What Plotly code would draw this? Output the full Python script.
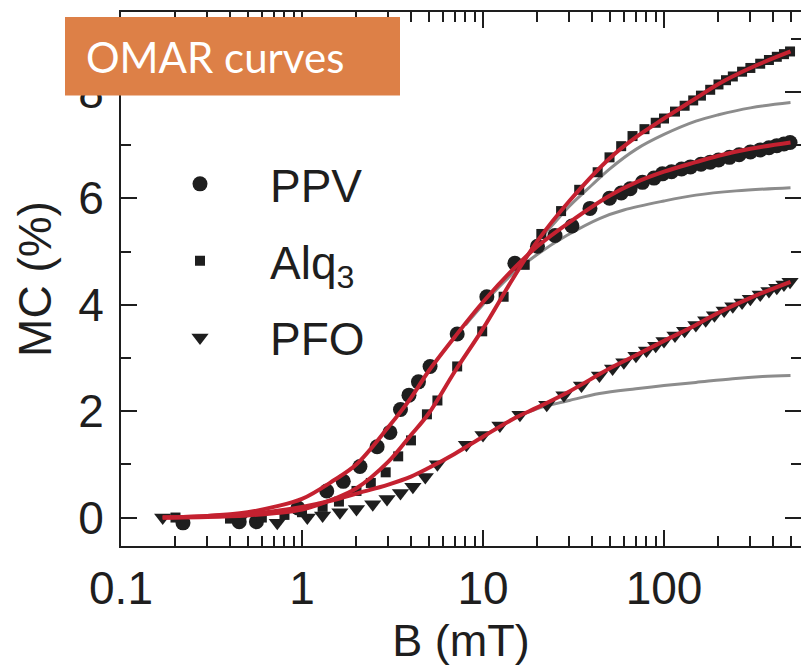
import plotly.graph_objects as go

# ---------------- data ----------------
ppv_B = [0.22, 0.45, 0.56, 0.95, 1.37, 1.69, 2.09, 2.6, 3.06, 3.5, 3.9, 4.4, 5.1, 7.2, 10.5, 15, 20, 25, 31, 39,
         50, 58, 65, 76, 88, 98, 110, 125, 140, 160, 180, 200, 230, 260, 300, 340, 380, 420, 460, 497]
ppv_MC = [-0.1, -0.08, -0.08, 0.18, 0.5, 0.68, 0.96, 1.33, 1.6, 2.03, 2.3, 2.55, 2.84, 3.45, 4.15, 4.78, 5.1, 5.3, 5.48, 5.81,
          6.0, 6.1, 6.18, 6.3, 6.38, 6.46, 6.5, 6.55, 6.59, 6.64, 6.68, 6.72, 6.77, 6.82, 6.87, 6.91, 6.95, 6.99, 7.02, 7.05]

alq_B = [0.2, 0.4, 0.6, 0.8, 1.0, 1.3, 1.6, 2.0, 2.4, 2.9, 3.4, 4.0, 4.9, 5.6, 7.2, 9.9, 13, 17, 21, 27, 34, 43,
         50, 58, 67, 78, 90, 100, 115, 130, 145, 160, 180, 200, 220, 240, 270, 300, 340, 380, 420, 460, 497]
alq_MC = [0.0, -0.02, 0.0, 0.05, 0.1, 0.2, 0.3, 0.5, 0.65, 0.85, 1.15, 1.45, 1.94, 2.2, 2.84, 3.5, 4.15, 4.75, 5.33, 5.76, 6.16, 6.49,
          6.77, 6.98, 7.17, 7.3, 7.42, 7.5, 7.63, 7.74, 7.84, 7.93, 8.04, 8.14, 8.22, 8.29, 8.38, 8.45, 8.53, 8.6, 8.66, 8.71, 8.76]

pfo_B = [0.17, 0.45, 0.73, 1.07, 1.3, 1.62, 2.0, 2.46, 2.95, 3.5, 4.1, 4.8, 5.6, 8.1, 10, 12.4, 16, 22.5, 28, 35, 44,
         52, 60, 70, 80, 90, 100, 115, 130, 150, 170, 190, 215, 240, 270, 300, 340, 380, 420, 460, 497]
pfo_MC = [0.0, -0.05, -0.1, 0.0, 0.04, 0.1, 0.16, 0.25, 0.35, 0.46, 0.58, 0.76, 1.0, 1.37, 1.55, 1.73, 1.93, 2.12, 2.3, 2.48, 2.67,
          2.8, 2.92, 3.04, 3.14, 3.23, 3.32, 3.42, 3.51, 3.62, 3.71, 3.8, 3.89, 3.97, 4.04, 4.11, 4.19, 4.26, 4.32, 4.38, 4.43]

# red fit curves
fit_B = [0.17, 0.3, 0.5, 0.7, 1.0, 1.5, 2.0, 3.0, 4.0, 5.0, 7.0, 10, 15, 20, 30, 50, 70, 100, 150, 200, 300, 500]
fit_ppv = [0.0, 0.03, 0.1, 0.2, 0.35, 0.7, 1.0, 1.7, 2.25, 2.75, 3.4, 4.05, 4.7, 5.1, 5.55, 6.05, 6.3, 6.5, 6.68, 6.8, 6.93, 7.05]
fit_alq = [0.0, 0.01, 0.04, 0.08, 0.15, 0.35, 0.55, 1.05, 1.55, 1.95, 2.75, 3.55, 4.55, 5.2, 5.95, 6.75, 7.15, 7.5, 7.88, 8.15, 8.45, 8.76]
fit_pfo = [0.0, 0.03, 0.07, 0.12, 0.2, 0.33, 0.45, 0.62, 0.77, 0.93, 1.2, 1.52, 1.87, 2.07, 2.37, 2.8, 3.05, 3.32, 3.62, 3.85, 4.13, 4.43]

# gray (saturating) curves
gray_ppv_B = [8, 12, 15, 20, 29, 44, 60, 100, 150, 250, 500]
gray_ppv_MC = [3.62, 4.3, 4.62, 4.95, 5.3, 5.62, 5.78, 5.95, 6.06, 6.14, 6.2]
gray_alq_B = [15, 20, 25, 30, 40, 50, 70, 100, 150, 200, 300, 500]
gray_alq_MC = [4.55, 5.18, 5.55, 5.85, 6.25, 6.55, 6.92, 7.2, 7.45, 7.57, 7.7, 7.8]
gray_pfo_B = [10, 15, 20, 26, 30, 44, 70, 100, 150, 240, 350, 500]
gray_pfo_MC = [1.52, 1.87, 2.05, 2.15, 2.2, 2.33, 2.42, 2.48, 2.54, 2.61, 2.65, 2.67]

x_major = [0.1, 1, 10, 100]
x_major_text = ["0.1", "1", "10", "100"]
x_minor = [m * d for d in (0.1, 1, 10, 100) for m in range(2, 10)]
y_major = [0, 2, 4, 6, 8]
y_minor = [1, 3, 5, 7, 9]

RED = "#C42130"
GRAY = "#8C8C8C"
INK = "#1E1E1E"
FONT = "Liberation Sans, Arial, sans-serif"

fig = go.Figure()

for bx, by in [(gray_ppv_B, gray_ppv_MC), (gray_alq_B, gray_alq_MC), (gray_pfo_B, gray_pfo_MC)]:
    fig.add_trace(go.Scatter(x=bx, y=by, mode="lines", line=dict(color=GRAY, width=3, shape="spline"),
                             showlegend=False, hoverinfo="skip"))

fig.add_trace(go.Scatter(x=ppv_B, y=ppv_MC, mode="markers", name="PPV", legendgroup="a",
                         marker=dict(symbol="circle", size=15, color=INK)))
fig.add_trace(go.Scatter(x=alq_B, y=alq_MC, mode="markers", name="Alq<sub>3</sub>", legendgroup="b",
                         marker=dict(symbol="square", size=10, color=INK)))
fig.add_trace(go.Scatter(x=pfo_B, y=pfo_MC, mode="markers", name="PFO", legendgroup="c",
                         marker=dict(symbol="triangle-down", size=15, color=INK)))

for fy in (fit_ppv, fit_alq, fit_pfo):
    fig.add_trace(go.Scatter(x=fit_B, y=fy, mode="lines", line=dict(color=RED, width=4, shape="spline"),
                             showlegend=False, hoverinfo="skip"))

# invisible trace to activate the right-side y axis for mirrored ticks
fig.add_trace(go.Scatter(x=[1], y=[0], yaxis="y2", mode="markers", marker=dict(opacity=0),
                         showlegend=False, hoverinfo="skip"))

W, H = 801, 666
L, R, T, B = 121, 0, 12, 110
pw, ph = W - L - R, H - T - B

def px(xp):
    return (xp - L) / pw

def py(yp):
    return (H - B - yp) / ph

xr = [-1, -1 + pw / 181.0]
yr = [-0.535, -0.535 + ph / 54.2]

fig.update_layout(
    width=W, height=H, autosize=False,
    margin=dict(l=L, r=R, t=T, b=B, pad=0),
    paper_bgcolor="white", plot_bgcolor="white",
    font=dict(family=FONT, color=INK, size=46),
    xaxis=dict(type="log", range=xr, tickvals=x_major, ticktext=x_major_text,
               ticks="inside", ticklen=16, tickwidth=2, tickcolor=INK,
               minor=dict(tickvals=x_minor, ticks="inside", ticklen=10, tickwidth=2, tickcolor=INK),
               showline=True, linecolor=INK, linewidth=2, mirror="ticks",
               showgrid=False, zeroline=False, tickfont=dict(size=46),
               ticklabelstandoff=1,
               title=dict(text="B (mT)", font=dict(size=45), standoff=20)),
    yaxis=dict(range=yr, tickvals=y_major, ticks="inside", ticklen=16, tickwidth=2, tickcolor=INK,
               minor=dict(tickvals=y_minor, ticks="inside", ticklen=10, tickwidth=2, tickcolor=INK),
               showline=True, linecolor=INK, linewidth=2, mirror=False,
               showgrid=False, zeroline=False, tickfont=dict(size=46),
               ticklabelstandoff=6,
               title=dict(text="MC (%)", font=dict(size=46), standoff=12)),
    yaxis2=dict(range=yr, overlaying="y", side="right", matches="y", tickvals=y_major,
                ticks="inside", ticklen=16, tickwidth=2, tickcolor=INK,
                minor=dict(tickvals=y_minor, ticks="inside", ticklen=10, tickwidth=2, tickcolor=INK),
                showticklabels=False, showline=False, showgrid=False, zeroline=False),
    legend=dict(x=px(130), y=py(150), xanchor="left", yanchor="top",
                bgcolor="rgba(0,0,0,0)", borderwidth=0, itemwidth=130,
                tracegroupgap=14, font=dict(size=46, family=FONT),
                itemsizing="trace"),
    showlegend=True,
    shapes=[dict(type="rect", xref="paper", yref="paper",
                 x0=px(65), x1=px(400), y0=py(97), y1=py(17),
                 fillcolor="#DD8047", line=dict(width=0), layer="above")],
    annotations=[dict(text="OMAR curves", xref="paper", yref="paper",
                      x=px(84), y=py(58), xanchor="left", yanchor="middle",
                      showarrow=False, font=dict(family="Lato, sans-serif", size=42, color="white"))],
)

fig.write_html("out.html")
